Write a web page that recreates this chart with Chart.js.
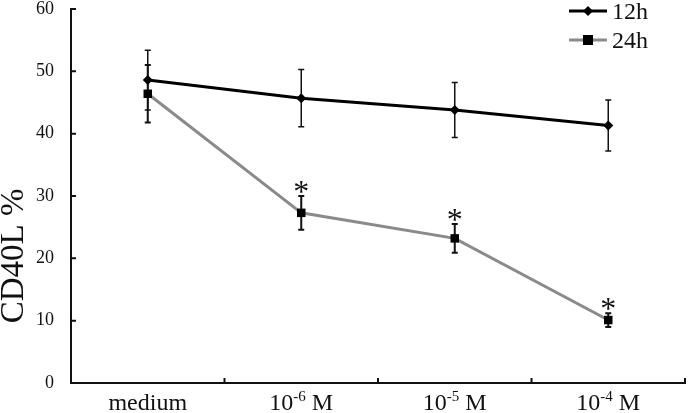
<!DOCTYPE html>
<html>
<head>
<meta charset="utf-8">
<script src="https://cdn.jsdelivr.net/npm/chart.js@4/dist/chart.umd.min.js"></script>
<style>
html,body{margin:0;padding:0;background:#fff;}
#wrap{width:691px;height:413px;position:relative;}
</style>
</head>
<body>
<div id="wrap"><canvas id="c" width="691" height="413"></canvas></div>
<script>
const categories = ['medium', '10^-6 M', '10^-5 M', '10^-4 M'];
const series12h = [48.6, 45.7, 43.8, 41.3];
const err12h = [4.8, 4.6, 4.4, 4.1];
const series24h = [46.4, 27.3, 23.2, 10.1];
const err24h = [4.6, 2.7, 2.3, 1.1];
const significant24h = [false, true, true, true];
const yTicks = [0, 10, 20, 30, 40, 50, 60];
const seriesNames = ['12h', '24h'];
const yTitle = 'CD40L %';

const SERIF = '"Liberation Serif", "Times New Roman", serif';

const errorBarPlugin = {
  id: 'errorBars',
  beforeDatasetsDraw(chart) {
    const ctx = chart.ctx;
    const y = chart.scales.y;
    chart.data.datasets.forEach((ds, di) => {
      const meta = chart.getDatasetMeta(di);
      const errs = ds.errors;
      meta.data.forEach((pt, i) => {
        const v = ds.data[i], e = errs[i];
        const x = pt.x;
        const yt = y.getPixelForValue(v + e);
        const yb = y.getPixelForValue(v - e);
        ctx.save();
        ctx.strokeStyle = '#111';
        ctx.lineWidth = ds.errWidth;
        ctx.beginPath();
        ctx.moveTo(x, yt); ctx.lineTo(x, yb);
        ctx.moveTo(x - 3, yt); ctx.lineTo(x + 3, yt);
        ctx.moveTo(x - 3, yb); ctx.lineTo(x + 3, yb);
        ctx.stroke();
        ctx.restore();
      });
    });
  },
  afterDatasetsDraw(chart) {
    const ctx = chart.ctx;
    const y = chart.scales.y;
    const di = 1;
    const ds = chart.data.datasets[di];
    const meta = chart.getDatasetMeta(di);
    meta.data.forEach((pt, i) => {
      if (!significant24h[i]) return;
      const yt = y.getPixelForValue(ds.data[i] + ds.errors[i]);
      ctx.save();
      ctx.fillStyle = '#111';
      ctx.font = '32px ' + SERIF;
      ctx.textAlign = 'center';
      ctx.textBaseline = 'alphabetic';
      ctx.fillText('*', pt.x, yt + 6);
      ctx.restore();
    });
  }
};

const axisDecorPlugin = {
  id: 'axisDecor',
  afterDraw(chart) {
    const ctx = chart.ctx;
    const xs = chart.scales.x, ys = chart.scales.y;
    const area = chart.chartArea;
    const step = xs.getPixelForValue(1) - xs.getPixelForValue(0);
    ctx.save();
    ctx.strokeStyle = '#111';
    ctx.lineWidth = 2;
    ctx.beginPath();
    yTicks.forEach(t => {
      const py = ys.getPixelForValue(t);
      ctx.moveTo(area.left, py); ctx.lineTo(area.left + 5, py);
    });
    for (let i = 1; i <= categories.length; i++) {
      const px = xs.getPixelForValue(i - 1) + step / 2;
      ctx.moveTo(px, area.bottom); ctx.lineTo(px, area.bottom - 5);
    }
    ctx.stroke();

    // x category labels with superscript exponents
    ctx.fillStyle = '#111';
    ctx.textBaseline = 'alphabetic';
    ctx.textAlign = 'left';
    const big = '24px ' + SERIF, small = '15px ' + SERIF;
    categories.forEach((lab, i) => {
      const cx = xs.getPixelForValue(i);
      const m = lab.match(/^(.*?)\^(\S+)(.*)$/);
      let parts;
      if (m) parts = [[m[1], big, 0], [m[2], small, -9], [m[3], big, 0]];
      else parts = [[lab, big, 0]];
      let w = 0;
      parts.forEach(p => { ctx.font = p[1]; w += ctx.measureText(p[0]).width; });
      let x = cx - w / 2;
      parts.forEach(p => {
        ctx.font = p[1];
        ctx.fillText(p[0], x, 410 + p[2]);
        x += ctx.measureText(p[0]).width;
      });
    });

    // y title
    ctx.font = '33px ' + SERIF;
    ctx.textAlign = 'center';
    ctx.textBaseline = 'alphabetic';
    ctx.translate(23, 256);
    ctx.rotate(-Math.PI / 2);
    ctx.fillText(yTitle, 0, 0);
    ctx.restore();

    // legend
    ctx.save();
    const rows = [11, 40];
    chart.data.datasets.forEach((ds, di) => {
      const ly = rows[di];
      ctx.strokeStyle = ds.borderColor;
      ctx.lineWidth = 3;
      ctx.beginPath();
      ctx.moveTo(569, ly); ctx.lineTo(607, ly);
      ctx.stroke();
      ctx.fillStyle = '#000';
      if (ds.pointStyle === 'rectRot') {
        ctx.beginPath();
        ctx.moveTo(588, ly - 5); ctx.lineTo(593, ly); ctx.lineTo(588, ly + 5); ctx.lineTo(583, ly);
        ctx.closePath(); ctx.fill();
      } else {
        ctx.fillRect(583, ly - 5, 10, 10);
      }
      ctx.fillStyle = '#111';
      ctx.font = '24px ' + SERIF;
      ctx.textAlign = 'left';
      ctx.textBaseline = 'alphabetic';
      ctx.fillText(seriesNames[di], 612, ly + 8);
    });
    ctx.restore();
  }
};

new Chart(document.getElementById('c'), {
  type: 'line',
  data: {
    labels: categories,
    datasets: [
      {
        label: seriesNames[0],
        data: series12h,
        errors: err12h,
        errWidth: 1.5,
        borderColor: '#000',
        borderWidth: 3,
        pointStyle: 'rectRot',
        pointRadius: 5,
        pointBackgroundColor: '#000',
        pointBorderColor: '#000',
        pointBorderWidth: 0,
        tension: 0
      },
      {
        label: seriesNames[1],
        data: series24h,
        errors: err24h,
        errWidth: 2,
        borderColor: '#8a8a8a',
        borderWidth: 3,
        pointStyle: 'rect',
        pointRadius: 6,
        pointBackgroundColor: '#000',
        pointBorderColor: '#000',
        pointBorderWidth: 0,
        tension: 0
      }
    ]
  },
  options: {
    responsive: false,
    animation: false,
    devicePixelRatio: 1,
    layout: { padding: { left: 0, top: 9, right: 2, bottom: 0 } },
    plugins: { legend: { display: false }, tooltip: { enabled: false } },
    scales: {
      x: {
        type: 'category',
        offset: true,
        grid: { display: true, drawOnChartArea: false, drawTicks: false, offset: true, color: 'rgba(0,0,0,0)' },
        border: { display: true, color: '#111', width: 2 },
        ticks: { display: false },
        afterFit(s) { s.height = 30; }
      },
      y: {
        min: 0, max: 60,
        afterBuildTicks(s) { s.ticks = yTicks.map(v => ({ value: v })); },
        grid: { display: true, drawOnChartArea: false, drawTicks: true, tickLength: 17, color: 'rgba(0,0,0,0)' },
        border: { display: true, color: '#111', width: 2 },
        ticks: { color: '#111', font: { family: SERIF, size: 18, lineHeight: 1 }, padding: 0 },
        afterFit(s) { s.width = 71; }
      }
    }
  },
  plugins: [errorBarPlugin, axisDecorPlugin]
});
</script>
</body>
</html>
